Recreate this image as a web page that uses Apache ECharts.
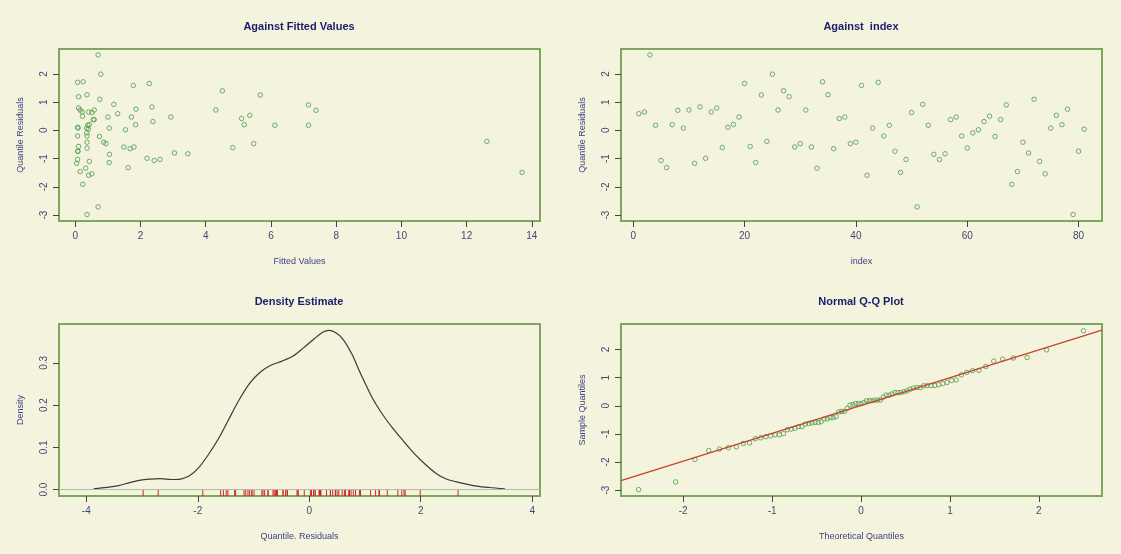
<!DOCTYPE html>
<html>
<head>
<meta charset="utf-8">
<script src="https://cdn.jsdelivr.net/npm/echarts@6/dist/echarts.min.js"></script>
<style>
html,body{margin:0;padding:0;background:#f4f4de;}
#chart{width:1121px;height:554px;}
</style>
</head>
<body>
<div id="chart"></div>
<script>
// ---- data ----
const residuals = [0.59,0.65,2.67,0.18,-1.07,-1.32,0.20,0.71,0.08,0.72,
  -1.17,0.83,-0.99,0.65,0.79,-0.61,0.11,0.21,0.47,1.66,
  -0.57,-1.14,1.25,-0.39,1.99,0.72,1.40,1.19,-0.59,-0.47,
  0.72,-0.59,-1.34,1.72,1.26,-0.65,0.42,0.47,-0.47,-0.42,
  1.59,-1.59,0.08,1.70,-0.20,0.18,-0.74,-1.49,-1.03,0.63,
  -2.71,0.92,0.18,-0.85,-1.03,-0.83,0.38,0.47,-0.20,-0.63,
  -0.09,0.02,0.31,0.50,-0.22,0.38,0.90,-1.91,-1.46,-0.42,
  -0.80,1.10,-1.10,-1.54,0.08,0.53,0.20,0.75,-2.98,-0.74,0.04];
const fittedValues = [1.30,0.41,0.70,0.38,2.42,1.62,5.18,7.38,0.08,4.31,
  0.04,2.35,2.20,0.21,0.10,4.83,0.08,0.43,1.00,2.27,
  0.10,1.04,5.67,12.62,0.78,0.15,4.51,0.10,1.49,5.47,
  0.58,1.80,0.32,0.24,0.36,1.68,5.10,1.72,0.94,0.36,
  1.78,0.41,0.35,0.07,0.07,6.12,0.08,13.70,0.07,0.51,
  0.70,1.18,7.15,1.05,2.60,3.45,0.58,2.93,0.36,0.36,
  0.35,1.54,2.38,0.22,0.74,0.55,7.15,0.23,0.15,0.87,
  3.04,0.75,0.43,0.51,1.04,5.35,1.85,1.86,0.36,0.08,0.40];
const theoreticalQuantiles = [-2.502,-2.086,-1.868,-1.714,-1.593,-1.492,-1.403,-1.325,-1.254,-1.189,
  -1.128,-1.071,-1.018,-0.967,-0.919,-0.873,-0.829,-0.786,-0.744,-0.704,
  -0.665,-0.627,-0.589,-0.553,-0.517,-0.482,-0.448,-0.414,-0.380,-0.347,
  -0.315,-0.282,-0.250,-0.218,-0.187,-0.155,-0.124,-0.093,-0.062,-0.031,
  0,
  0.031,0.062,0.093,0.124,0.155,0.187,0.218,0.250,0.282,0.315,
  0.347,0.380,0.414,0.448,0.482,0.517,0.553,0.589,0.627,0.665,
  0.704,0.744,0.786,0.829,0.873,0.919,0.967,1.018,1.071,1.128,
  1.189,1.254,1.325,1.403,1.492,1.593,1.714,1.868,2.086,2.502];
const densityX = [-3.87,-3.63,-3.44,-3.24,-3.05,-2.86,-2.67,-2.47,-2.31,-2.15,
  -1.99,-1.83,-1.64,-1.45,-1.26,-1.06,-0.87,-0.68,-0.49,-0.29,
  -0.10,0.09,0.25,0.35,0.47,0.60,0.76,0.92,1.12,1.31,
  1.50,1.69,1.88,2.08,2.27,2.46,2.72,2.97,3.23,3.51];
const densityY = [0.002,0.0055,0.009,0.016,0.022,0.025,0.026,0.024,0.025,0.033,
  0.051,0.079,0.118,0.165,0.212,0.253,0.279,0.295,0.304,0.316,
  0.336,0.357,0.373,0.377,0.372,0.357,0.322,0.275,0.220,0.179,
  0.145,0.115,0.086,0.060,0.039,0.025,0.016,0.009,0.005,0.002];
const qqIntercept = 0.01;
const qqSlope = 0.99;

const fittedTicks = [0,2,4,6,8,10,12,14];
const indexTicks = [0,20,40,60,80];
const residTicks = [-3,-2,-1,0,1,2];
const densityXTicks = [-4,-2,0,2,4];
const densityYTicks = [0.0,0.1,0.2,0.3];
const qqXTicks = [-2,-1,0,1,2];
const qqYTicks = [-3,-2,-1,0,1,2];

const titles = ['Against Fitted Values','Against  index','Density Estimate','Normal Q-Q Plot'];

// ---- styles ----
const BG = '#f4f4de';
const BOX = '#7ea65e';
const TITLE = '#1c1c6a';
const LAB = '#45457a';
const NAME = '#3d3d85';
const PT = '#4b9a4b';

const grids = [
  {left:59, top:49, width:481, height:172},
  {left:621, top:49, width:481, height:172},
  {left:59, top:324, width:481, height:172},
  {left:621, top:324, width:481, height:172}
];
const sampleQuantiles = residuals.slice().sort((a,b)=>a-b);

function xAx(i, min, max, ticks, name, fmt){
  return {type:'value', gridIndex:i, min:min, max:max, name:name,
    nameLocation:'middle', nameGap:36,
    nameTextStyle:{color:NAME, fontSize:9, fontFamily:'Liberation Sans'},
    axisLine:{show:false, onZero:false}, splitLine:{show:false},
    axisTick:{show:true, inside:false, length:6, customValues:ticks, lineStyle:{color:'#444', width:1}},
    axisLabel:{show:true, customValues:ticks, margin:10, color:LAB, fontSize:10, fontFamily:'Liberation Sans',
      formatter: fmt || (v=>String(v))}};
}
function yAx(i, min, max, ticks, name, fmt){
  return {type:'value', gridIndex:i, min:min, max:max, name:name,
    nameLocation:'middle', nameGap:34, nameRotate:90,
    nameTextStyle:{color:NAME, fontSize:9, fontFamily:'Liberation Sans'},
    axisLine:{show:false, onZero:false}, splitLine:{show:false},
    axisTick:{show:true, inside:false, length:6, customValues:ticks, lineStyle:{color:'#444', width:1}},
    axisLabel:{show:true, rotate:90, customValues:ticks, margin:10, color:LAB, fontSize:10, fontFamily:'Liberation Sans',
      formatter: fmt || (v=>String(v))}};
}

const titleCenters = [[299,21],[861,21],[299,296],[861,296]];

const qqXMin = -2.70, qqXMax = 2.71;
const densYMin = -0.0151;

const option = {
  backgroundColor: BG,
  animation:false,
  title: titles.map((t,i)=>({text:t, left:titleCenters[i][0], top:titleCenters[i][1], textAlign:'center', padding:0,
    textStyle:{color:TITLE, fontSize:11, fontWeight:'bold', fontFamily:'Liberation Sans'}})),
  grid: grids.map(g=>Object.assign({show:true, borderColor:BOX, borderWidth:2, backgroundColor:'transparent', containLabel:false}, g)),
  xAxis: [
    xAx(0, -0.5, 14.25, fittedTicks, 'Fitted Values'),
    xAx(1, -2.2, 84.2, indexTicks, 'index'),
    xAx(2, -4.49, 4.14, densityXTicks, 'Quantile. Residuals'),
    xAx(3, qqXMin, qqXMax, qqXTicks, 'Theoretical Quantiles')
  ],
  yAxis: [
    yAx(0, -3.21, 2.88, residTicks, 'Quantile Residuals'),
    yAx(1, -3.21, 2.88, residTicks, 'Quantile Residuals'),
    yAx(2, densYMin, 0.392, densityYTicks, 'Density', v=>v.toFixed(1)),
    yAx(3, -3.21, 2.91, qqYTicks, 'Sample Quantiles')
  ],
  series: [
    {type:'scatter', xAxisIndex:0, yAxisIndex:0, symbol:'circle', symbolSize:4.5,
      itemStyle:{color:'rgba(0,0,0,0)', borderColor:PT, borderWidth:1},
      data: fittedValues.map((f,i)=>[f, residuals[i]])},
    {type:'scatter', xAxisIndex:1, yAxisIndex:1, symbol:'circle', symbolSize:4.5,
      itemStyle:{color:'rgba(0,0,0,0)', borderColor:PT, borderWidth:1},
      data: residuals.map((r,i)=>[i+1, r])},
    {type:'line', xAxisIndex:2, yAxisIndex:2, smooth:0.3, showSymbol:false, symbol:'none',
      lineStyle:{color:'#3a3a3a', width:1.2},
      data: densityX.map((x,i)=>[x, densityY[i]]),
      markLine:{silent:true, symbol:'none', label:{show:false},
        lineStyle:{color:'#b9b9a6', width:1, type:'solid'}, data:[{yAxis:0}]}},
    {type:'custom', xAxisIndex:2, yAxisIndex:2,
      encode:{x:0, y:1},
      data: residuals.map(r=>[r, 0]),
      renderItem:function(params, api){
        const p = api.coord([api.value(0), densYMin]);
        return {type:'line', shape:{x1:p[0], y1:p[1], x2:p[0], y2:p[1]-6},
          style:{stroke:'#cc2a2a', lineWidth:1}};
      }},
    {type:'line', xAxisIndex:3, yAxisIndex:3, showSymbol:false, symbol:'none',
      lineStyle:{color:'#c8402a', width:1.2},
      data: [[qqXMin, qqIntercept + qqSlope*qqXMin],[qqXMax, qqIntercept + qqSlope*qqXMax]]},
    {type:'scatter', xAxisIndex:3, yAxisIndex:3, symbol:'circle', symbolSize:4.5,
      itemStyle:{color:'rgba(0,0,0,0)', borderColor:PT, borderWidth:1},
      data: theoreticalQuantiles.map((q,i)=>[q, sampleQuantiles[i]])}
  ]
};
const chart = echarts.init(document.getElementById('chart'), null, {renderer:'canvas'});
chart.setOption(option);
</script>
</body>
</html>
